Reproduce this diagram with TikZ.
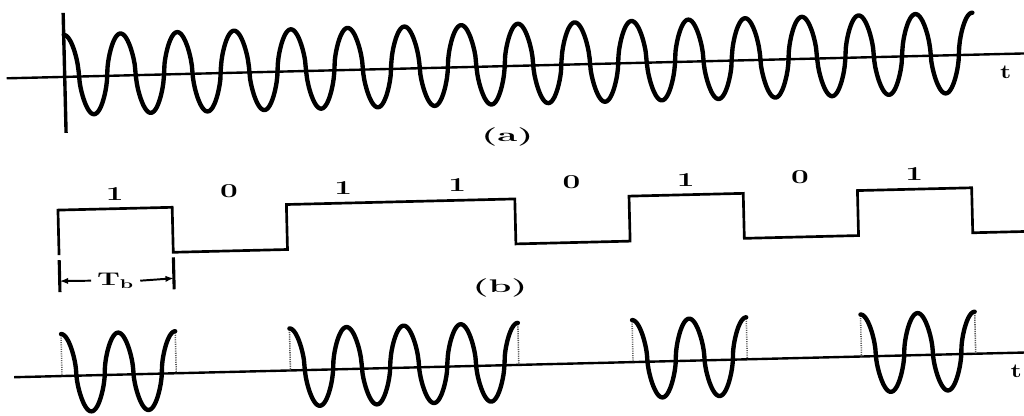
\documentclass[tikz,border=0pt]{standalone}
\usetikzlibrary{arrows.meta}
\newcommand\wid[2]{\scalebox{#1}[1]{#2}}
\begin{document}
\begin{tikzpicture}[x=0.025cm,y=-0.025cm,
  declare function={fc(\p)=sign(cos(\p))*pow(abs(cos(\p))+0.0001,0.6);},
  wave/.style={line width=3.1pt,line join=round,line cap=round},
  axisline/.style={line width=1.7pt},
  sq/.style={line width=1.9pt,line join=miter},
  guide/.style={line width=1.1pt,dash pattern=on 0.8pt off 0.8pt,black!65},
  bar/.style={line width=2.2pt},
  lbl/.style={inner sep=0pt,font=\fontsize{13}{15}\bfseries\selectfont},
  digit/.style={inner sep=0pt,font=\fontsize{14}{16}\bfseries\selectfont},
  tlbl/.style={inner sep=0pt,font=\fontsize{14}{16}\bfseries\selectfont},
  tip/.style={-{Latex[length=6pt,width=4.5pt]},line width=1.4pt}]
\useasboundingbox (0,0) rectangle (1024,415);
\fill[white] (0,0) rectangle (1024,415);
\begin{scope}[rotate around={1.4:(512,207)}]
% ---------- (a) carrier ----------
\draw[axisline] (10,66) -- (1040,66);
\draw[line width=2.4pt] (68,2) -- (68,122);
\draw[wave] plot[domain=68:977,samples=1100] (\x,{64-40*fc((\x-68)/56.8*360)});
\node[tlbl] (ta) at (1009,84) {\wid{1.3}{t}};
\node[lbl] (la) at (509,137) {\wid{2.0}{(a)}};
% ---------- (b) binary data ----------
\draw[sq] (58,244) -- (58,199) -- (172.25,199) -- (172.25,244) -- (286.5,244)
  -- (286.5,199) -- (515,199) -- (515,244) -- (629.25,244) -- (629.25,199)
  -- (743.5,199) -- (743.5,244) -- (857.75,244) -- (857.75,199) -- (972,199)
  -- (972,244) -- (1040,244);
\foreach \b [count=\k from 0] in {1,0,1,1,0,1,0,1}
  \node[digit] (d\k) at ({58+114.25*(\k+0.5)},184) {\wid{1.6}{\b}};
\coordinate (bl) at (58,270);
\coordinate (br) at (172.25,270);
\draw[bar] (58,249) -- (58,281);
\draw[bar] (172.25,249) -- (172.25,281);
\node[lbl,inner xsep=4pt] (tb) at (114,271) {\wid{1.6}{T$_{\mathbf{b}}$}};
\draw[tip] (tb.west) -- (bl);
\draw[tip] (tb.east) -- (br);
\node[lbl] (lb) at (498,288) {\wid{2.0}{(b)}};
% ---------- (c) ASK signal ----------
\draw[axisline] (10,365) -- (1040,365);
\foreach \a/\e in {58/172.25, 286.5/515, 629.25/743.5, 857.75/972}{
  \draw[guide] (\a,322) -- (\a,365);
  \draw[guide] (\e,322) -- (\e,365);
  \draw[wave] plot[domain=\a:\e,samples=350] (\x,{362-39*fc((\x-\a)/57.125*360)});
}
\node[tlbl] (tc) at (1012,384) {\wid{1.3}{t}};
\end{scope}
\end{tikzpicture}
\end{document}
